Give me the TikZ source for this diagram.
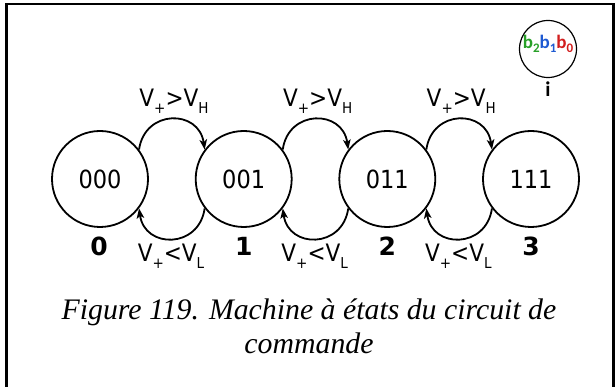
\documentclass[tikz,border=0pt]{standalone}
\usepackage{fontspec}
\setmainfont{Liberation Serif}
\newfontfamily\dvs[FakeStretch=0.9]{DejaVu Sans}
\newfontfamily\dvb{DejaVu Sans}
\newfontfamily\carl{Carlito}
\usetikzlibrary{arrows.meta}
\definecolor{bgreen}{RGB}{40,160,40}
\definecolor{bblue}{RGB}{30,90,210}
\definecolor{bred}{RGB}{210,30,30}
\newcommand\sbs[1]{\raisebox{-0.3em}{\fontsize{15}{15}\selectfont #1}}
\newcommand\lsb[1]{\raisebox{-0.25em}{\fontsize{13}{13}\selectfont #1}}
\begin{document}
\begin{tikzpicture}[x=1pt,y=1pt,
  state/.style={circle,draw,line width=1.8pt,minimum size=96pt,inner sep=0pt,font=\dvs\fontsize{25}{25}\selectfont},
  trans/.style={line width=1.8pt,-{Stealth[length=10pt,width=7.5pt,inset=2.5pt]}},
  cond/.style={inner sep=0pt,font=\dvs\fontsize{24}{24}\selectfont},
  num/.style={inner sep=0pt,font=\dvb\bfseries\fontsize{25}{25}\selectfont},
  frame/.style={line width=2.5pt}]
\useasboundingbox (0,0) rectangle (616,387);
\fill[white] (0,0) rectangle (616,387);
\draw[frame] (6.5,-5) -- (6.5,383) -- (613.3,383) -- (613.3,-5);
% states
\node[state] (s0) at (100,208) {000};
\node[state] (s1) at (243.7,208) {001};
\node[state] (s2) at (387.3,208) {011};
\node[state] (s3) at (531,208) {111};
% numbers
\node[num] (n0) at (99,141) {0};
\node[num] (n1) at (243.7,141) {1};
\node[num] (n2) at (387.3,141) {2};
\node[num] (n3) at (531,141) {3};
% transitions up
\draw[trans] (s0.37) to[out=82,in=98,looseness=1.6] (s1.143);
\draw[trans] (s1.37) to[out=82,in=98,looseness=1.6] (s2.143);
\draw[trans] (s2.37) to[out=82,in=98,looseness=1.6] (s3.143);
% transitions down
\draw[trans] (s1.217) to[out=-98,in=-82,looseness=1.6] (s0.323);
\draw[trans] (s2.217) to[out=-98,in=-82,looseness=1.6] (s1.323);
\draw[trans] (s3.217) to[out=-98,in=-82,looseness=1.6] (s2.323);
% conditions
\node[cond] (u0) at (174,286) {V\sbs{+}>V\sbs{H}};
\node[cond] (u1) at (317.7,286) {V\sbs{+}>V\sbs{H}};
\node[cond] (u2) at (461.3,286) {V\sbs{+}>V\sbs{H}};
\node[cond] (d0) at (171,131) {V\sbs{+}<V\sbs{L}};
\node[cond] (d1) at (314.7,131) {V\sbs{+}<V\sbs{L}};
\node[cond] (d2) at (458.3,131) {V\sbs{+}<V\sbs{L}};
% legend
\node[circle,draw,line width=1.2pt,minimum size=57pt,inner sep=0pt] (leg) at (548,338) {};
\node[inner sep=0pt,font=\carl\bfseries\fontsize{19}{19}\selectfont] (legt) at (548,343)
  {\textcolor{bgreen}{b\lsb{2}}\textcolor{bblue}{b\lsb{1}}\textcolor{bred}{b\lsb{0}}};
\node[inner sep=0pt,font=\carl\bfseries\fontsize{21}{21}\selectfont] (legi) at (548,298) {i};
% caption
\node[inner sep=0pt,font=\itshape\fontsize{29.8}{31}\selectfont] (cap1) at (309,75) {Figure 119. Machine à états du circuit de};
\node[inner sep=0pt,font=\itshape\fontsize{29.8}{31}\selectfont] (cap2) at (309,44) {commande};
\end{tikzpicture}
\end{document}
